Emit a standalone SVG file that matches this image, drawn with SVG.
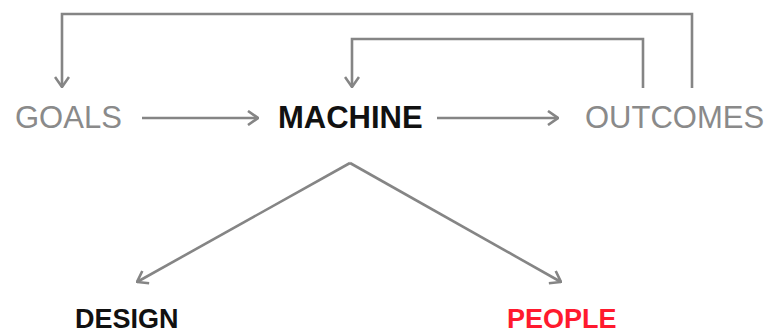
<svg xmlns="http://www.w3.org/2000/svg" width="769" height="333" viewBox="0 0 769 333">
<defs>
<marker id="arr" viewBox="0 0 12 16" refX="11" refY="8" markerWidth="12" markerHeight="16" markerUnits="userSpaceOnUse" orient="auto">
<path d="M1 1 L11 8 L1 15" fill="none" stroke="#858585" stroke-width="2.6" stroke-linejoin="miter"/>
</marker>
<style>
.ln{fill:none;stroke:#858585;stroke-width:2.6}
.t{font-family:"Liberation Sans",Arial,sans-serif}
.g{fill:#8a8a8a;font-size:31px}
.b{font-weight:bold;font-size:31px;fill:#111}
.s{font-weight:bold;font-size:27px}
</style>
</defs>
<rect width="769" height="333" fill="#fff"/>
<g id="connectors">
<path class="ln" d="M692 88 V14 H62 V87" marker-end="url(#arr)"/>
<path class="ln" d="M643 88 V39 H352 V87" marker-end="url(#arr)"/>
<path class="ln" d="M142 118 H258" marker-end="url(#arr)"/>
<path class="ln" d="M437 118 H558" marker-end="url(#arr)"/>
<path class="ln" d="M350 163 L137 282" marker-end="url(#arr)"/>
<path class="ln" d="M350 163 L561 282" marker-end="url(#arr)"/>
</g>
<g id="goals"><text class="t g" x="15" y="128">GOALS</text></g>
<g id="machine"><text class="t b" x="278" y="128">MACHINE</text></g>
<g id="outcomes"><text class="t g" x="585" y="128">OUTCOMES</text></g>
<g id="design"><text class="t s" x="75" y="328" fill="#111">DESIGN</text></g>
<g id="people"><text class="t s" x="507" y="328" fill="#ff1a2e">PEOPLE</text></g>
</svg>
